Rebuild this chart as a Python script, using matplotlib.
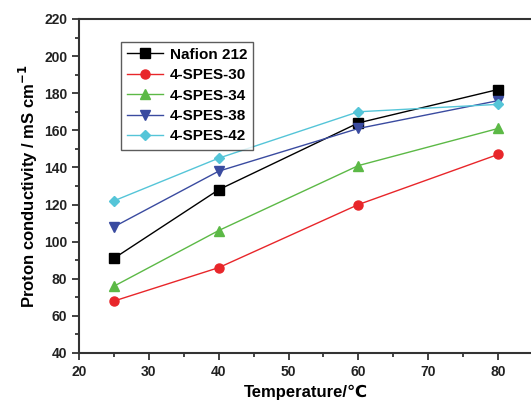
import matplotlib
matplotlib.use("Agg")
import matplotlib.pyplot as plt
from matplotlib.ticker import MultipleLocator

plt.rcParams['font.family'] = ['Liberation Sans', 'DejaVu Sans']
plt.rcParams['font.weight'] = 'bold'

temps = [25, 40, 60, 80]
nafion = [91, 128, 164, 182]
spes30 = [68, 86, 120, 147]
spes34 = [76, 106, 141, 161]
spes38 = [108, 138, 161, 176]
spes42 = [122, 145, 170, 174]

series = [
    ("Nafion 212", nafion, "black", "s"),
    ("4-SPES-30", spes30, "#e8262a", "o"),
    ("4-SPES-34", spes34, "#5cb946", "^"),
    ("4-SPES-38", spes38, "#3a4ba0", "v"),
    ("4-SPES-42", spes42, "#55c5d8", "D"),
]

fig = plt.figure(figsize=(5.31, 4.03), dpi=100)
ax = fig.add_axes([79/531, 1-353/403, (533-79)/531, (353-19)/403])

for name, vals, col, mk in series:
    ax.plot(temps, vals, color=col, marker=mk, lw=1.0,
            ms=6.5 if mk != "D" else 5.5, label=name)

ax.set_xlim(20, 85)
ax.set_ylim(40, 220)
ax.xaxis.set_major_locator(MultipleLocator(10))
ax.xaxis.set_minor_locator(MultipleLocator(5))
ax.yaxis.set_major_locator(MultipleLocator(20))
ax.yaxis.set_minor_locator(MultipleLocator(10))
ax.tick_params(which='both', direction='out', width=1.2, labelsize=10, colors='#222222')
ax.tick_params(which='major', length=5)
ax.tick_params(which='minor', length=3)
for s in ax.spines.values():
    s.set_linewidth(1.5)
    s.set_color('#333333')

ax.set_xlabel("Temperature/℃", fontsize=12, fontweight='bold', labelpad=4)
ax.set_ylabel("Proton conductivity / mS cm$^{\\mathbf{-1}}$", fontsize=12,
              fontweight='bold', labelpad=3)

leg = ax.legend(loc='upper left', bbox_to_anchor=(0.075, 0.955), fontsize=11,
                frameon=True, fancybox=False, edgecolor='#333333',
                handlelength=2.4, borderpad=0.4, labelspacing=0.42, handletextpad=0.4)
leg.get_frame().set_linewidth(1.0)

fig.savefig("out.png", dpi=100)
